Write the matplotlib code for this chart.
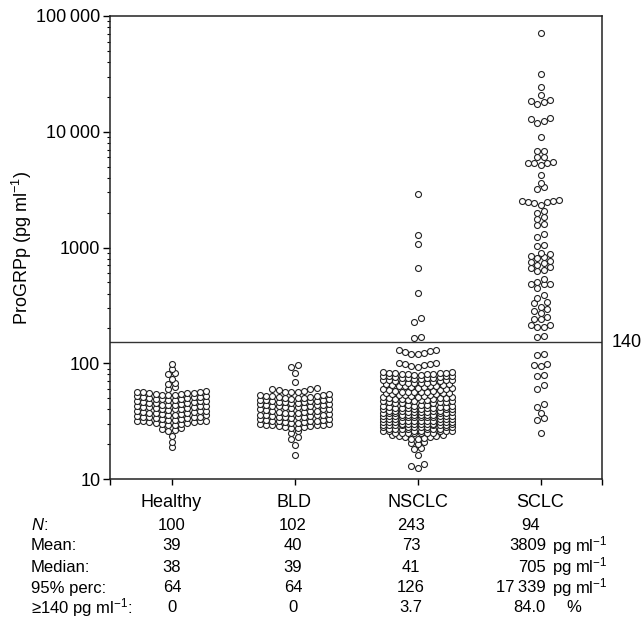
import numpy as np
import matplotlib
matplotlib.use("Agg")
import matplotlib.pyplot as plt
from matplotlib.ticker import FixedLocator, LogLocator, NullFormatter, NullLocator

plt.rcParams["font.family"] = ["Liberation Sans", "DejaVu Sans"]
plt.rcParams["mathtext.fontset"] = "custom"
plt.rcParams["mathtext.rm"] = "Liberation Sans"
plt.rcParams["mathtext.it"] = "Liberation Sans:italic"

# ---- data (pg/ml) ----
groups = ["Healthy", "BLD", "NSCLC", "SCLC"]

healthy = [19, 21, 23.5,
           26, 26.5, 27, 27.5,
           29.5, 29.5, 30, 30, 30.5, 30.5, 31, 31, 31.5, 31.5, 32, 32,
           32.5, 32.5, 33, 33, 33.5, 33.5, 34, 34, 34.5, 34.5, 35, 35.5,
           36, 36, 36.5, 36.5, 37, 37.5, 37.5, 38, 38, 38.5, 39, 39,
           39.5, 40, 40, 40.5, 41, 41, 41.5, 42, 42, 42.5, 43, 43,
           43.5, 44, 44, 44.5, 45, 45.5, 45.5, 46, 46.5, 47, 47, 47.5,
           48, 48.5, 49, 49, 49.5, 50, 50.5, 51, 51, 51.5, 52, 52.5,
           53, 53, 53.5, 54, 54.5, 55, 55, 55.5, 56, 56.5, 57, 58,
           60, 62, 66, 68, 73, 81, 83, 89, 98]

bld = [16, 19.5, 22, 23, 25, 26,
       27.5, 27.5, 28, 28, 28.5, 28.5, 29, 29, 29.5, 29.5, 30, 30,
       30.5, 30.5, 31, 31, 31.5, 31.5, 32, 32, 32.5, 32.5, 33, 33,
       33.5, 34, 34, 34.5, 34.5, 35, 35, 35.5, 35.5, 36, 36, 36.5,
       37, 37, 37.5, 38, 38, 38.5, 39, 39, 39.5, 40, 40, 40.5,
       41, 41.5, 41.5, 42, 42.5, 42.5, 43, 43.5, 43.5, 44, 44.5, 44.5,
       45, 45.5, 46, 46, 46.5, 47, 47, 47.5, 48, 48, 48.5, 49,
       49.5, 50, 50, 50.5, 51, 51.5, 52, 52, 52.5, 53, 53.5, 54,
       56, 56.5, 57, 58, 59, 60, 60.5, 61,
       69, 82, 93, 97]

nsclc_low = [12.5, 13, 13.5, 16, 18, 18.5, 20, 20.5, 21,
             22, 22, 22.5, 23, 23, 23.5, 23.5, 24, 24]
# dense block: value levels and how many dots sit on each
nsclc_levels = list(range(25, 85))
nsclc_counts = ([7] * 6 + [6] * 6 + [5] * 5 + [3] * 9
                + [3, 2, 3, 2, 3, 2, 3] + [2] * 13 + [2] * 14)
nsclc_high = [93, 94, 96, 98, 99, 100, 101,
              120, 121, 123, 125, 127, 129, 131,
              165, 169, 225, 245, 404, 665, 1072, 1282, 2900]
nsclc = nsclc_low + list(np.repeat(nsclc_levels, nsclc_counts)) + nsclc_high

sclc = [24.8, 32.5, 33.5, 37.4, 42, 44.5, 60, 65, 77, 79, 94, 96, 98, 117, 120,
        168, 171, 205, 207, 212, 215, 240, 240, 251, 272, 280, 294, 308, 330, 335, 364, 389,
        445, 484, 484, 484, 500, 531,
        631, 640, 661, 683, 706, 731, 753, 769, 807, 822, 845, 879, 891,
        1037, 1052, 1240, 1310, 1560, 1600, 1780, 1820, 1980, 2050,
        2350, 2400, 2450, 2480, 2500, 2530, 2560,
        3187, 3311, 3590, 4230,
        5165, 5335, 5335, 5405, 5440,
        6085, 6085, 6855, 6855,
        9060, 12000, 12300, 12900, 13100,
        17300, 18000, 18500, 18900, 20800, 24200, 31550, 70950]

series = [healthy, bld, nsclc, sclc]

cutoff_label = "140"
cutoff_line = 152          # where the line sits in the picture

row_labels = [r"$\mathit{N}$:", "Mean:", "Median:", "95% perc:", r"≥140 pg ml$^{-1}$:"]
n_vals = ["100", "102", "243", "94"]
mean_vals = ["39", "40", "73", "3809"]
median_vals = ["38", "39", "41", "705"]
perc_vals = ["64", "64", "126", "17\u2009339"]
above_vals = ["0", "0", "3.7", "84.0"]
row_units = ["", r"pg ml$^{-1}$", r"pg ml$^{-1}$", r"pg ml$^{-1}$", "%"]


def swarm(vals, centre, bin_h=0.04, max_cols=12, dx=0.0513):
    """binned dot plot: rows of close values, lowest in the middle"""
    v = np.sort(np.asarray(vals, float))
    lv = np.log10(v)
    xs = np.empty_like(v)
    i, n = 0, len(v)
    while i < n:
        j = i
        while j < n and j - i < max_cols and lv[j] - lv[i] < bin_h:
            j += 1
        m = j - i
        slots = sorted(np.arange(m) - (m - 1) / 2, key=lambda s: (abs(s), s))
        xs[i:j] = centre + np.array(slots) * dx
        i = j
    return xs, v


W, H = 644, 621
fig = plt.figure(figsize=(W / 100, H / 100), dpi=100)
ax = fig.add_axes([110 / W, 1 - 479 / H, 492 / W, 463 / H])

for k, vals in enumerate(series):
    xs, ys = swarm(vals, k + 1)
    ax.plot(xs, ys, "o", ls="none", ms=4.3, mfc="white", mec="#222", mew=0.8, zorder=3)

ax.axhline(cutoff_line, color="#333", lw=1.0, zorder=2)
ax.annotate(cutoff_label, xy=(1, cutoff_line), xycoords=("axes fraction", "data"),
            xytext=(7, 0), textcoords="offset points", va="center", ha="left", fontsize=13)

ax.set_yscale("log")
ax.set_ylim(10, 1e5)
ax.set_xlim(0.5, 4.5)
ax.yaxis.set_major_locator(FixedLocator([10, 100, 1000, 1e4, 1e5]))
ax.set_yticklabels(["10", "100", "1000", "10\u2009000", "100\u2009000"])
ax.yaxis.set_minor_locator(LogLocator(base=10, subs=np.arange(2, 10)))
ax.yaxis.set_minor_formatter(NullFormatter())
ax.set_xticks([0.5, 1, 2, 3, 4, 4.5])
ax.set_xticklabels([""] + groups + [""])
ax.xaxis.set_minor_locator(NullLocator())
ax.tick_params(axis="y", which="major", direction="out", length=5, width=1, labelsize=13, pad=2)
ax.tick_params(axis="y", which="minor", direction="out", length=2.5, width=0.8)
ax.tick_params(axis="x", direction="out", length=4.5, width=1, labelsize=13, pad=6)
for sp in ax.spines.values():
    sp.set_linewidth(1.1)
    sp.set_color("#222")

fig.text(22 / W, 1 - 248 / H, r"ProGRPp (pg ml$^{-1}$)", rotation=90,
         ha="center", va="center", fontsize=13)

# summary table under the plot
row_y = [525, 546, 567, 588, 608]
col_x = [172, 293, 411]
rows = [n_vals, mean_vals, median_vals, perc_vals, above_vals]
for r, (lab, vals, unit, y) in enumerate(zip(row_labels, rows, row_units, row_y)):
    yy = 1 - y / H
    fig.text(31 / W, yy, lab, ha="left", va="center", fontsize=12)
    for x, s in zip(col_x, vals[:3]):
        fig.text(x / W, yy, s, ha="center", va="center", fontsize=12)
    if r == 0:
        fig.text(531 / W, yy, vals[3], ha="center", va="center", fontsize=12)
    else:
        fig.text(546 / W, yy, vals[3], ha="right", va="center", fontsize=12)
    if unit:
        fig.text((566 if unit == "%" else 552) / W, yy, unit, ha="left", va="center", fontsize=12)

fig.savefig("out.png", dpi=100)
